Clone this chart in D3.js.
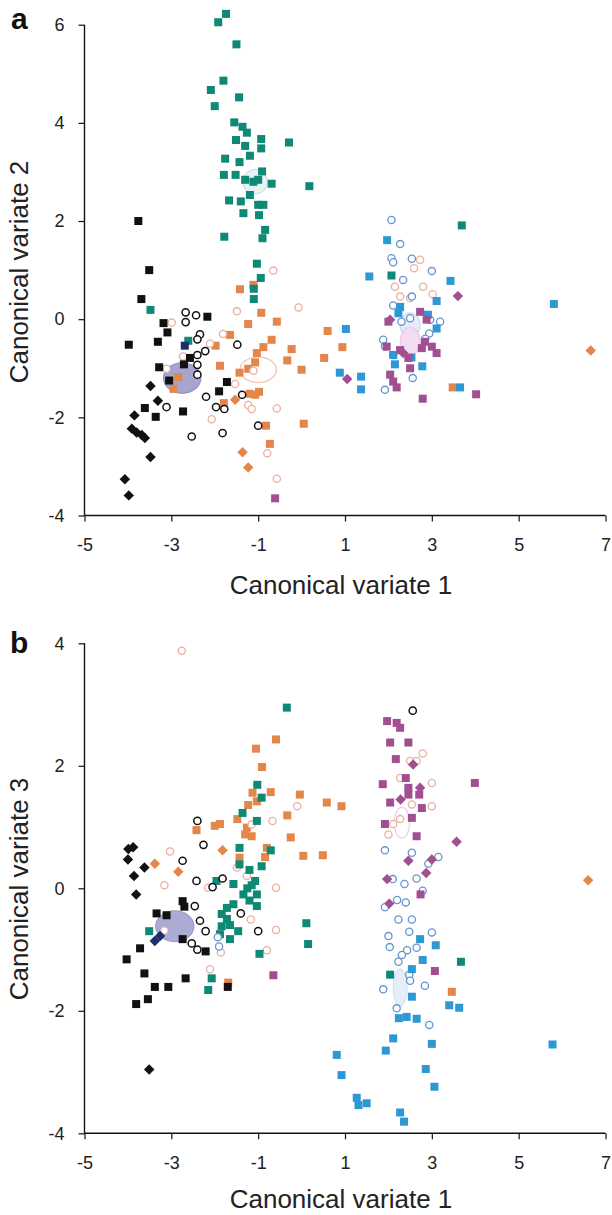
<!DOCTYPE html>
<html><head><meta charset="utf-8">
<script src="https://cdn.jsdelivr.net/npm/d3@7"></script>
<style>html,body{margin:0;padding:0;background:#fff}svg{display:block}</style>
</head><body>
<svg id="chart" width="612" height="1215"></svg>
<script>
// ---------- DATA ----------
const xTicks = [-5, -3, -1, 1, 3, 5, 7];
const yTicksA = [-4, -2, 0, 2, 4, 6];
const yTicksB = [-4, -2, 0, 2, 4];
const xTitle = "Canonical variate 1";
const yTitleA = "Canonical variate 2";
const yTitleB = "Canonical variate 3";

// Panel a (CV1, CV2)
const blackSqA = [[-3.76,2.0],[-3.51,1.0],[-3.69,0.41],[-3.98,-0.52],[-3.18,-0.08],[-3.09,-0.27],[-3.31,-0.46],[-2.17,0.05],[-3.28,-0.98],[-3.05,-1.25],[-2.71,-0.92],[-2.57,-0.79],[-3.61,-1.81],[-3.36,-1.99],[-2.73,-1.88],[-1.72,-1.28],[-1.90,-1.47]];
const blackDiaA = [[-3.48,-1.36],[-3.31,-1.66],[-3.85,-1.96],[-3.91,-2.23],[-3.80,-2.31],[-3.68,-2.36],[-3.61,-2.42],[-3.48,-2.81],[-4.07,-3.26],[-3.98,-3.59]];
const blackCircA = [[-2.67,0.14],[-2.43,0.08],[-2.67,-0.06],[-2.34,-0.31],[-2.40,-0.41],[-2.22,-0.65],[-2.40,-0.73],[-2.40,-0.93],[-2.40,-1.13],[-2.20,-1.58],[-3.11,-1.79],[-1.97,-1.79],[-1.78,-1.83],[-1.37,-1.54],[-1.0,-2.17],[-2.53,-2.39],[-1.82,-2.32],[-1.48,-0.52]];
const pinkCircA = [[-0.65,0.99],[-0.07,0.24],[-1.49,0.16],[-1.81,-0.30],[-2.11,-0.50],[-2.99,-0.07],[-2.73,-0.76],[-3.11,-1.01],[-1.11,-1.05],[-1.53,-1.32],[-1.23,-1.75],[-1.15,-1.83],[-0.57,-1.82],[-2.07,-2.04],[-0.79,-2.73],[-0.57,-3.25],[2.73,1.21],[2.59,1.04],[2.15,0.66],[2.80,0.66],[3.02,0.51],[2.27,0.46],[2.50,0.43]];
const tealSqA = [[-1.74,6.22],[-1.92,6.05],[-1.50,5.60],[-1.80,4.86],[-2.09,4.67],[-1.44,4.52],[-2.00,4.34],[-1.55,4.01],[-1.36,3.92],[-1.26,3.80],[-1.51,3.65],[-1.30,3.53],[-0.93,3.67],[-0.93,3.48],[-0.29,3.60],[-1.76,3.27],[-1.19,3.33],[-1.43,3.20],[-0.91,3.01],[-1.79,2.94],[-1.52,2.94],[-1.30,2.84],[-1.11,2.80],[-1.00,2.84],[-0.69,2.76],[0.18,2.71],[-1.67,2.42],[-1.40,2.40],[-1.19,2.53],[-1.34,2.16],[-1.00,2.33],[-0.88,2.33],[-0.98,2.12],[-1.78,1.68],[-0.84,1.82],[-0.90,1.65],[-1.03,1.13],[-0.94,0.84],[-1.10,0.62],[-1.10,0.41],[-3.48,0.19],[-2.61,-0.44],[3.69,1.91],[2.07,0.89]];
const orangeSqA = [[-1.42,0.61],[-1.11,0.70],[-0.93,0.13],[-1.23,-0.10],[-0.57,-0.05],[-1.65,-0.32],[-1.98,-0.54],[-0.69,-0.42],[-0.88,-0.57],[-0.23,-0.61],[-1.03,-0.69],[-1.07,-0.88],[-0.33,-0.84],[-1.88,-0.95],[-1.43,-1.09],[-1.23,-1.01],[0.0,-1.03],[-2.84,-1.18],[-2.95,-1.42],[-1.07,-1.54],[-1.20,-1.52],[-0.98,-1.48],[-1.79,-1.71],[-0.82,-2.17],[0.05,-2.13],[-0.73,-2.54],[0.60,-0.24],[0.52,-0.79],[0.94,-0.57],[3.48,-1.39]];
const orangeDiaA = [[-1.36,-2.71],[-1.23,-3.02],[-1.53,-1.64],[6.66,-0.64]];
const purpleSqA = [[-0.61,-3.65],[2.0,-0.05],[2.73,0.15],[2.88,-0.01],[2.84,-0.46],[3.0,-0.56],[3.11,-0.69],[2.77,-0.59],[1.96,-0.56],[2.27,-0.63],[2.46,-0.79],[2.04,-1.13],[2.11,-1.27],[2.19,-1.39],[2.79,-1.62],[4.02,-1.53],[2.50,-1.0]];
const purpleDiaA = [[3.60,0.47],[2.04,-0.01],[2.34,-0.69],[1.05,-1.22]];
const blueSqA = [[1.97,1.61],[1.56,0.87],[3.43,0.78],[3.11,0.37],[2.27,0.25],[2.91,0.09],[2.23,0.12],[3.11,-0.19],[2.11,-0.73],[2.15,-0.92],[2.53,-0.78],[2.78,-0.96],[3.65,-1.39],[1.37,-1.17],[1.37,-1.43],[1.02,-0.20],[0.88,-1.09],[5.81,0.31]];
const lightBlueCircA = [[2.07,2.02],[2.27,1.53],[2.07,1.24],[2.11,1.16],[2.54,1.23],[3.0,0.98],[2.34,0.80],[2.54,0.46],[2.11,0.28],[3.19,-0.05],[2.96,-0.01],[2.50,0.02],[2.94,-0.29],[1.88,-0.42],[1.92,-0.55],[2.11,-0.73],[2.56,-1.20],[1.92,-1.44],[2.30,-0.05],[2.85,-0.40]];
const navySqA = [[-2.69,-0.54]];
// group centroid regions: [cx, cy, rx, ry]
const centroidsA = [[-2.75,-1.2,0.43,0.31],[-1.0,-1.03,0.42,0.26],[-1.07,2.8,0.28,0.25],[2.5,-0.12,0.23,0.25],[2.5,-0.45,0.23,0.28]];

// Panel b (CV1, CV3)
const blackSqB = [[-3.34,-0.41],[-3.11,-0.44],[-2.74,-0.21],[-2.70,-0.30],[-2.74,-0.83],[-3.72,-0.98],[-4.03,-1.16],[-2.21,-1.03],[-3.62,-1.39],[-2.67,-1.47],[-3.38,-1.61],[-3.07,-1.61],[-3.54,-1.81],[-3.81,-1.89],[-1.70,-1.61]];
const blackDiaB = [[-3.99,0.64],[-3.88,0.67],[-4.0,0.47],[-3.62,0.34],[-3.86,0.20],[-3.81,-0.10],[-3.51,-2.96]];
const navyDiaB = [[-3.38,-0.86],[-3.26,-0.78]];
const blackCircB = [[-2.40,1.10],[-2.26,0.71],[-2.74,0.45],[-2.42,0.12],[-1.82,0.16],[-2.05,0.02],[-2.46,-0.29],[-2.34,-0.53],[-2.21,-0.70],[-2.53,-0.90],[-2.40,-1.0],[-1.40,-0.41],[-1.0,-0.70],[2.56,2.90]];
const pinkCircB = [[-2.76,3.88],[-3.03,0.60],[-3.16,0.05],[-2.15,0.01],[-0.59,0.01],[-0.67,1.10],[-0.10,1.34],[-1.26,0.20],[-1.49,0.34],[-1.15,1.04],[-2.11,-1.32],[-1.17,-0.51],[-0.59,-0.68],[-0.80,-1.01],[-1.86,-1.05],[-3.16,-0.69],[2.79,2.20],[2.50,2.08],[2.65,2.08],[2.27,1.80],[3.0,1.72],[2.54,1.37],[3.0,1.34],[2.27,1.13],[2.11,1.05],[2.0,0.88]];
const tealSqB = [[-0.34,2.95],[-1.02,1.69],[-0.92,1.48],[-1.36,1.23],[-1.03,1.10],[-0.71,0.62],[-1.43,0.66],[-1.43,0.39],[-0.92,0.36],[-1.20,0.30],[-1.96,0.12],[-1.57,0.07],[-1.07,0.12],[-1.34,-0.10],[-1.03,-0.10],[-1.20,-0.20],[-1.57,-0.26],[-1.72,-0.32],[-1.03,-0.29],[-1.25,0.0],[-1.15,0.05],[-1.72,-0.50],[-1.65,-0.60],[-1.84,-0.62],[-3.51,-0.70],[-1.88,-0.75],[-1.65,-0.83],[-1.46,-0.70],[-1.84,-0.42],[-0.97,-1.07],[0.11,-0.57],[0.15,-0.91],[-2.07,-1.47],[-2.15,-1.66],[2.04,-1.41],[3.67,-1.20]];
const orangeSqB = [[-0.59,2.43],[-1.05,2.28],[-0.91,1.98],[-0.71,1.57],[-0.04,1.53],[-1.13,1.56],[-1.03,1.42],[-1.23,1.36],[-0.33,1.19],[-1.48,1.13],[-2.0,1.02],[-1.88,1.05],[-2.42,0.95],[-0.25,0.83],[0.04,0.53],[0.49,0.54],[-1.26,0.99],[-1.30,0.88],[-1.15,0.85],[-0.80,0.66],[-1.43,0.50],[-0.84,0.51],[0.58,1.40],[0.92,1.34],[-1.69,-1.54],[3.46,-1.69]];
const orangeDiaB = [[-1.82,0.62],[-2.84,0.27],[-3.38,0.40],[6.60,0.13]];
const purpleSqB = [[-0.65,-1.42],[1.97,2.73],[2.19,2.70],[2.27,2.62],[2.04,2.38],[2.46,2.38],[2.17,2.11],[1.87,1.70],[2.40,1.80],[2.46,1.64],[2.46,1.53],[2.04,1.40],[2.71,1.53],[2.77,1.31],[2.54,1.15],[1.92,1.05],[3.99,1.72],[2.65,0.85],[2.74,-0.10],[3.07,-1.35]];
const purpleDiaB = [[2.57,2.02],[2.28,1.45],[2.73,1.64],[3.57,0.76],[2.46,0.45],[3.0,0.47],[2.87,0.25],[1.97,0.15],[2.02,-0.25]];
const blueSqB = [[2.73,-0.83],[3.09,-0.93],[2.79,-1.17],[2.54,-1.32],[2.54,-1.77],[3.40,-1.91],[3.63,-1.95],[2.24,-2.12],[2.42,-2.10],[2.65,-2.13],[2.11,-2.45],[1.94,-2.65],[3.0,-2.54],[5.78,-2.55],[0.81,-2.72],[0.92,-3.05],[2.86,-2.95],[3.06,-3.24],[1.27,-3.42],[1.31,-3.54],[1.50,-3.51],[2.27,-3.66],[2.36,-3.81]];
const lightBlueCircB = [[1.92,0.62],[2.54,0.58],[2.92,0.40],[3.15,0.51],[2.10,0.15],[2.37,0.07],[2.65,0.16],[1.92,-0.31],[2.20,-0.19],[2.40,-0.23],[2.79,-0.04],[2.23,-0.51],[2.54,-0.51],[2.48,-0.71],[3.0,-0.72],[2.0,-0.78],[2.03,-0.96],[2.65,-0.97],[2.43,-1.01],[2.31,-1.09],[2.23,-1.20],[2.48,-1.41],[2.50,-1.51],[2.84,-1.59],[1.88,-1.65],[2.19,-1.96],[2.94,-2.23],[-1.93,-0.80],[-1.90,-0.95]];
const centroidsB = [[-2.92,-0.62,0.44,0.25],[2.31,1.07,0.18,0.25],[2.27,-1.62,0.16,0.30]];

// ---------- STYLE ----------
const C = {teal:"#0d8976", orange:"#e2864a", pink:"#ebb0a2", black:"#111111", blue:"#2e98d5",
           purple:"#a24f92", lblue:"#6596cc", navy:"#1f2d68"};
const centroidStyleA = [
  {fill:"#9d9ccb", stroke:"#8a89c0", op:0.9},
  {fill:"none", stroke:"#f2c0ac", op:1},
  {fill:"#e6f2f3", stroke:"#c4e0e3", op:0.9},
  {fill:"#e3ecf9", stroke:"#c9dcf3", op:0.95},
  {fill:"#f3dcf3", stroke:"#ecc6ec", op:0.95}
];
const centroidStyleB = [
  {fill:"#a3a2cf", stroke:"#9190c4", op:0.9},
  {fill:"none", stroke:"#f0c8ee", op:1},
  {fill:"#e3eef9", stroke:"#d1e3f5", op:0.95}
];

const svg = d3.select("#chart");
svg.append("rect").attr("width",612).attr("height",1215).attr("fill","#fff");

const FONT = "'Liberation Sans', Arial, Helvetica, sans-serif";

function panel(cfg){
  const x = d3.scaleLinear().domain([-5,7]).range([84.5,605.5]);
  const y = d3.scaleLinear().domain(cfg.yDomain).range(cfg.yRange);
  const g = svg.append("g");

  // centroid regions
  g.selectAll("ellipse.c").data(cfg.centroids).enter().append("ellipse")
    .attr("cx",d=>x(d[0])).attr("cy",d=>y(d[1]))
    .attr("rx",d=>x(d[2])-x(0)).attr("ry",d=>y(0)-y(d[3]))
    .attr("fill",(d,i)=>cfg.cStyle[i].fill).attr("stroke",(d,i)=>cfg.cStyle[i].stroke)
    .attr("stroke-width",1.2).attr("opacity",(d,i)=>cfg.cStyle[i].op);

  const S = 8, D = 7.4, R = 3.6;
  function squares(data,col){
    g.append("g").selectAll("rect").data(data).enter().append("rect")
      .attr("x",d=>x(d[0])-S/2).attr("y",d=>y(d[1])-S/2).attr("width",S).attr("height",S)
      .attr("fill",col);
  }
  function diamonds(data,col){
    g.append("g").selectAll("rect").data(data).enter().append("rect")
      .attr("x",-D/2).attr("y",-D/2).attr("width",D).attr("height",D)
      .attr("transform",d=>`translate(${x(d[0])},${y(d[1])}) rotate(45)`)
      .attr("fill",col);
  }
  function circles(data,col,sw){
    g.append("g").selectAll("circle").data(data).enter().append("circle")
      .attr("cx",d=>x(d[0])).attr("cy",d=>y(d[1])).attr("r",R)
      .attr("fill","#fff").attr("stroke",col).attr("stroke-width",sw);
  }
  cfg.draw(squares,diamonds,circles);

  // axes
  const fmt = d => String(d);
  const xAxis = d3.axisBottom(x).tickValues(xTicks).tickSize(6).tickPadding(17).tickFormat(fmt);
  const yAxis = d3.axisLeft(y).tickValues(cfg.yTicks).tickSize(6).tickPadding(14).tickFormat(fmt);
  const gx = g.append("g").attr("transform",`translate(0,${cfg.yRange[0]})`).call(xAxis);
  const gy = g.append("g").attr("transform",`translate(84.5,0)`).call(yAxis);
  [gx,gy].forEach(a=>{
    a.select(".domain").attr("stroke","#111").attr("stroke-width",1.4);
    a.selectAll(".tick line").attr("stroke","#111").attr("stroke-width",1.2);
    a.selectAll(".tick text").attr("font-family",FONT).attr("font-size",18).attr("fill","#222");
  });
  gx.select(".domain").attr("d",`M84.5,0H605.5`);
  gy.select(".domain").attr("d",`M0,${cfg.yRange[1]}V${cfg.yRange[0]}`);

  g.append("text").attr("x",341).attr("y",cfg.xTitleY).attr("text-anchor","middle")
    .attr("font-family",FONT).attr("font-size",26).attr("fill","#222").text(xTitle);
  g.append("text").attr("transform",`translate(${cfg.yTitleX},${cfg.yTitleCY}) rotate(-90)`)
    .attr("text-anchor","middle").attr("font-family",FONT).attr("font-size",26).attr("fill","#222").text(cfg.yTitle);
  g.append("text").attr("x",cfg.letterX).attr("y",cfg.letterY).attr("font-family",FONT)
    .attr("font-weight","bold").attr("font-size",30).attr("fill","#111").text(cfg.letter);
}

panel({
  yDomain:[-4,6], yRange:[515.5,24.7], yTicks:yTicksA, centroids:centroidsA, cStyle:centroidStyleA,
  xTitleY:594, yTitleX:28, yTitleCY:272, yTitle:yTitleA, letter:"a", letterX:11, letterY:29,
  draw:(sq,di,ci)=>{
    sq(orangeSqA,C.orange); di(orangeDiaA,C.orange);
    ci(pinkCircA,C.pink,1.3);
    sq(tealSqA,C.teal);
    ci(lightBlueCircA,C.lblue,1.3);
    sq(blueSqA,C.blue);
    sq(purpleSqA,C.purple); di(purpleDiaA,C.purple);
    sq(blackSqA,C.black); di(blackDiaA,C.black);
    sq(navySqA,C.navy);
    ci(blackCircA,C.black,1.5);
  }
});

panel({
  yDomain:[-4,4], yRange:[1133.3,643.3], yTicks:yTicksB, centroids:centroidsB, cStyle:centroidStyleB,
  xTitleY:1208, yTitleX:28, yTitleCY:889, yTitle:yTitleB, letter:"b", letterX:10, letterY:653,
  draw:(sq,di,ci)=>{
    sq(orangeSqB,C.orange); di(orangeDiaB,C.orange);
    ci(pinkCircB,C.pink,1.3);
    sq(tealSqB,C.teal);
    ci(lightBlueCircB,C.lblue,1.3);
    sq(blueSqB,C.blue);
    sq(purpleSqB,C.purple); di(purpleDiaB,C.purple);
    sq(blackSqB,C.black); di(blackDiaB,C.black);
    di(navyDiaB,C.navy);
    ci(blackCircB,C.black,1.5);
  }
});
</script>
</body></html>
